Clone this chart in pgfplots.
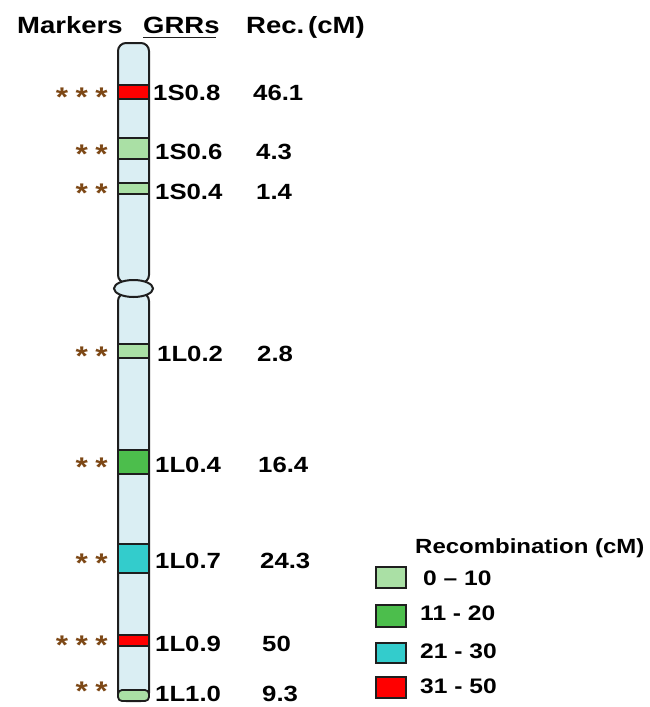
\documentclass[border=0pt]{standalone}
\usepackage{pgfplots}
\pgfplotsset{compat=1.18}
\usepackage{fontspec}
\setmainfont{Liberation Sans}[FakeStretch=1.17]
\definecolor{chromo}{RGB}{218,238,243}
\definecolor{gA}{RGB}{170,224,165}
\definecolor{gB}{RGB}{76,190,76}
\definecolor{gC}{RGB}{51,204,204}
\definecolor{gD}{RGB}{255,0,0}
\definecolor{starc}{RGB}{125,72,22}
\definecolor{edge}{RGB}{30,30,30}
\begin{document}
\begin{tikzpicture}
\begin{axis}[width=650pt,height=707pt,scale only axis,
  xmin=0,xmax=650,ymin=0,ymax=707,y dir=reverse,hide axis,clip=false]
\path (rel axis cs:0,0) rectangle (rel axis cs:1,1);
% headers
\tikzset{hd/.style={anchor=base west,inner sep=0pt,font=\fontsize{23.5}{27}\selectfont\bfseries}}
\node[hd] at (axis cs:17,33) {Markers};
\node[hd] at (axis cs:143,33) {GRRs};
\addplot[draw=edge,line width=1.8pt] coordinates {(143,37.5) (216,37.5)};
\node[hd] at (axis cs:246,33) {Rec.\,(cM)};
% chromosome arms
\addplot[draw=edge,line width=2pt,fill=chromo,rounded corners=8pt] coordinates {(133.5,43) (149,43) (149,283) (118,283) (118,43) (133.5,43)};
\addplot[draw=edge,line width=2pt,fill=chromo,rounded corners=8pt] coordinates {(133.5,293) (149,293) (149,701) (118,701) (118,293) (133.5,293)};
\draw[draw=edge,line width=2pt,fill=chromo] (axis cs:133.5,288.5) ellipse [x radius=19.5pt, y radius=8.5pt];
% bands
\addplot[draw=edge,line width=1.8pt,fill=gD] coordinates {(118,85) (149,85) (149,99) (118,99)} -- cycle;
\addplot[draw=edge,line width=1.8pt,fill=gA] coordinates {(118,138) (149,138) (149,159) (118,159)} -- cycle;
\addplot[draw=edge,line width=1.8pt,fill=gA] coordinates {(118,183) (149,183) (149,194) (118,194)} -- cycle;
\addplot[draw=edge,line width=1.8pt,fill=gA] coordinates {(118,344) (149,344) (149,358) (118,358)} -- cycle;
\addplot[draw=edge,line width=1.8pt,fill=gB] coordinates {(118,450) (149,450) (149,474) (118,474)} -- cycle;
\addplot[draw=edge,line width=1.8pt,fill=gC] coordinates {(118,544) (149,544) (149,573) (118,573)} -- cycle;
\addplot[draw=edge,line width=1.8pt,fill=gD] coordinates {(118,635) (149,635) (149,646) (118,646)} -- cycle;
\addplot[draw=edge,line width=1.8pt,fill=gA,rounded corners=4pt] coordinates {(133.5,690) (149,690) (149,701) (118,701) (118,690) (133.5,690)};
% stars
\tikzset{st/.style={anchor=base east,inner sep=0pt,text=starc,font=\fontsize{27}{30}\selectfont\bfseries}}
\node[st] at (axis cs:108,106) {*\hspace{7.5pt}*\hspace{7.5pt}*};
\node[st] at (axis cs:108,163) {*\hspace{7.5pt}*};
\node[st] at (axis cs:108,202) {*\hspace{7.5pt}*};
\node[st] at (axis cs:108,365) {*\hspace{7.5pt}*};
\node[st] at (axis cs:108,476) {*\hspace{7.5pt}*};
\node[st] at (axis cs:108,572) {*\hspace{7.5pt}*};
\node[st] at (axis cs:108,654) {*\hspace{7.5pt}*\hspace{7.5pt}*};
\node[st] at (axis cs:108,700.5) {*\hspace{7.5pt}*};
% GRR labels and values
\tikzset{lb/.style={anchor=base west,inner sep=0pt,font=\fontsize{22}{26}\selectfont\bfseries}}
\node[lb] at (axis cs:153,100) {1S0.8};  \node[lb] at (axis cs:253,100) {46.1};
\node[lb] at (axis cs:155,159) {1S0.6};  \node[lb] at (axis cs:256,159) {4.3};
\node[lb] at (axis cs:155,199) {1S0.4};  \node[lb] at (axis cs:256,199) {1.4};
\node[lb] at (axis cs:157,361) {1L0.2};  \node[lb] at (axis cs:257,361) {2.8};
\node[lb] at (axis cs:155,472) {1L0.4};  \node[lb] at (axis cs:258,472) {16.4};
\node[lb] at (axis cs:155,568) {1L0.7};  \node[lb] at (axis cs:260,568) {24.3};
\node[lb] at (axis cs:155,651) {1L0.9};  \node[lb] at (axis cs:262,651) {50};
\node[lb] at (axis cs:155,701) {1L1.0};  \node[lb] at (axis cs:262,701) {9.3};
% legend
\node[anchor=base west,inner sep=0pt,font=\fontsize{20.5}{24}\selectfont\bfseries] at (axis cs:415,553) {Recombination (cM)};
\addplot[draw=edge,line width=1.8pt,fill=gA] coordinates {(376,567) (406,567) (406,588) (376,588)} -- cycle;
\addplot[draw=edge,line width=1.8pt,fill=gB] coordinates {(376,605) (406,605) (406,627) (376,627)} -- cycle;
\addplot[draw=edge,line width=1.8pt,fill=gC] coordinates {(376,643) (406,643) (406,663) (376,663)} -- cycle;
\addplot[draw=edge,line width=1.8pt,fill=gD] coordinates {(376,677) (406,677) (406,698) (376,698)} -- cycle;
\tikzset{lg/.style={anchor=base west,inner sep=0pt,font=\fontsize{21}{24}\selectfont\bfseries}}
\node[lg] at (axis cs:423,585) {0 -- 10};
\node[lg] at (axis cs:420,620) {11 - 20};
\node[lg] at (axis cs:420,658) {21 - 30};
\node[lg] at (axis cs:420,693) {31 - 50};
\end{axis}
\end{tikzpicture}
\end{document}
